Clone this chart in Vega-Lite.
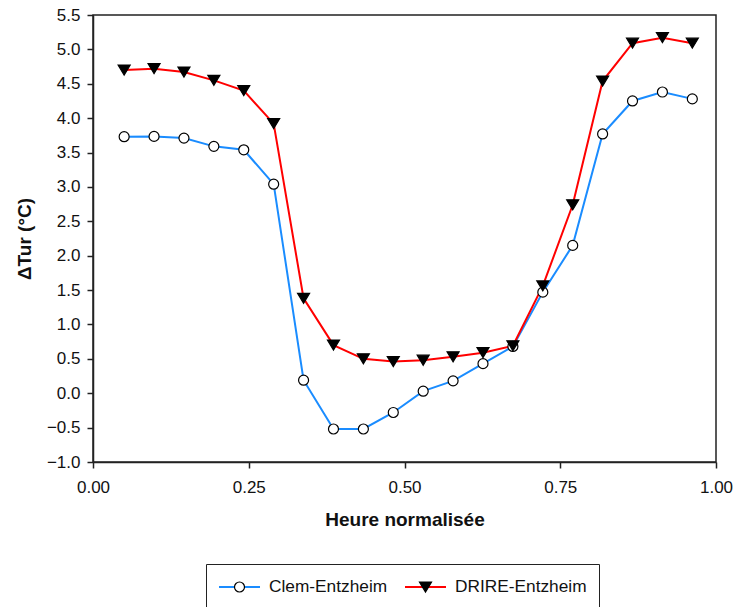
{
  "$schema": "https://vega.github.io/schema/vega-lite/v6.json",
  "width": 623,
  "height": 447,
  "autosize": {"type": "none"},
  "padding": {"left": 93, "top": 15, "right": 18, "bottom": 145},
  "background": "white",
  "config": {
    "font": "Liberation Sans",
    "view": {"stroke": "#222", "strokeWidth": 1.5},
    "axis": {
      "domainColor": "#222", "tickColor": "#222", "domainWidth": 1.5, "tickWidth": 1.5,
      "labelFont": "Liberation Sans", "labelFontSize": 17, "labelColor": "#111",
      "titleFont": "Liberation Sans", "titleFontSize": 19, "titleFontWeight": "bold", "titleColor": "#111",
      "grid": false, "tickSize": 6
    }
  },
  "data": {"values": [
    {"x": 0.050, "y": 3.73, "series": "Clem-Entzheim"},
    {"x": 0.098, "y": 3.735, "series": "Clem-Entzheim"},
    {"x": 0.146, "y": 3.71, "series": "Clem-Entzheim"},
    {"x": 0.194, "y": 3.59, "series": "Clem-Entzheim"},
    {"x": 0.242, "y": 3.54, "series": "Clem-Entzheim"},
    {"x": 0.290, "y": 3.04, "series": "Clem-Entzheim"},
    {"x": 0.338, "y": 0.19, "series": "Clem-Entzheim"},
    {"x": 0.386, "y": -0.52, "series": "Clem-Entzheim"},
    {"x": 0.434, "y": -0.52, "series": "Clem-Entzheim"},
    {"x": 0.482, "y": -0.28, "series": "Clem-Entzheim"},
    {"x": 0.530, "y": 0.03, "series": "Clem-Entzheim"},
    {"x": 0.578, "y": 0.18, "series": "Clem-Entzheim"},
    {"x": 0.626, "y": 0.43, "series": "Clem-Entzheim"},
    {"x": 0.674, "y": 0.68, "series": "Clem-Entzheim"},
    {"x": 0.722, "y": 1.47, "series": "Clem-Entzheim"},
    {"x": 0.770, "y": 2.15, "series": "Clem-Entzheim"},
    {"x": 0.818, "y": 3.77, "series": "Clem-Entzheim"},
    {"x": 0.866, "y": 4.25, "series": "Clem-Entzheim"},
    {"x": 0.914, "y": 4.38, "series": "Clem-Entzheim"},
    {"x": 0.962, "y": 4.28, "series": "Clem-Entzheim"},
    {"x": 0.050, "y": 4.70, "series": "DRIRE-Entzheim"},
    {"x": 0.098, "y": 4.72, "series": "DRIRE-Entzheim"},
    {"x": 0.146, "y": 4.67, "series": "DRIRE-Entzheim"},
    {"x": 0.194, "y": 4.55, "series": "DRIRE-Entzheim"},
    {"x": 0.242, "y": 4.40, "series": "DRIRE-Entzheim"},
    {"x": 0.290, "y": 3.92, "series": "DRIRE-Entzheim"},
    {"x": 0.338, "y": 1.38, "series": "DRIRE-Entzheim"},
    {"x": 0.386, "y": 0.70, "series": "DRIRE-Entzheim"},
    {"x": 0.434, "y": 0.50, "series": "DRIRE-Entzheim"},
    {"x": 0.482, "y": 0.46, "series": "DRIRE-Entzheim"},
    {"x": 0.530, "y": 0.48, "series": "DRIRE-Entzheim"},
    {"x": 0.578, "y": 0.53, "series": "DRIRE-Entzheim"},
    {"x": 0.626, "y": 0.59, "series": "DRIRE-Entzheim"},
    {"x": 0.674, "y": 0.69, "series": "DRIRE-Entzheim"},
    {"x": 0.722, "y": 1.56, "series": "DRIRE-Entzheim"},
    {"x": 0.770, "y": 2.74, "series": "DRIRE-Entzheim"},
    {"x": 0.818, "y": 4.54, "series": "DRIRE-Entzheim"},
    {"x": 0.866, "y": 5.09, "series": "DRIRE-Entzheim"},
    {"x": 0.914, "y": 5.17, "series": "DRIRE-Entzheim"},
    {"x": 0.962, "y": 5.09, "series": "DRIRE-Entzheim"}
  ]},
  "encoding": {
    "x": {"field": "x", "type": "quantitative",
      "scale": {"domain": [0, 1], "nice": false, "zero": false},
      "axis": {"title": "Heure normalisée", "values": [0, 0.25, 0.5, 0.75, 1], "format": ".2f", "labelPadding": 11, "titlePadding": 15, "labelFlush": false}},
    "y": {"field": "y", "type": "quantitative",
      "scale": {"domain": [-1, 5.5], "nice": false, "zero": false},
      "axis": {"title": "ΔTur (°C)", "values": [-1, -0.5, 0, 0.5, 1, 1.5, 2, 2.5, 3, 3.5, 4, 4.5, 5, 5.5], "format": ".1f", "labelPadding": 7, "titlePadding": 12, "labelFlush": false}}
  },
  "layer": [
    {
      "mark": {"type": "line", "strokeWidth": 2},
      "encoding": {
        "color": {"field": "series", "type": "nominal",
          "scale": {"domain": ["Clem-Entzheim", "DRIRE-Entzheim"], "range": ["#1a8cff", "#ff0000"]},
          "legend": {"orient": "none", "legendX": 113, "legendY": 549, "direction": "horizontal", "title": null,
            "symbolType": "stroke", "symbolSize": 1681, "symbolStrokeWidth": 2, "clipHeight": 22,
            "labelFont": "Liberation Sans", "labelFontSize": 17.3, "labelColor": "#111", "labelOffset": 8,
            "columnPadding": 16, "padding": 12, "strokeColor": "#222"}}
      }
    },
    {
      "mark": {"type": "point", "filled": true, "strokeWidth": 1.2, "opacity": 1, "size": 1681},
      "encoding": {
        "shape": {"field": "series", "type": "nominal",
          "scale": {"range": ["M-1,0M1,0M0.244,0A0.244,0.244,0,1,1,-0.244,0A0.244,0.244,0,1,1,0.244,0Z", "M-1,0M1,0M-0.293,-0.244L0.293,-0.244L0,0.244Z"]},
          "legend": {"orient": "none", "legendX": 113, "legendY": 549, "direction": "horizontal", "title": null,
            "symbolSize": 1681, "symbolStrokeColor": "black", "symbolStrokeWidth": 1.2, "clipHeight": 22,
            "labelFont": "Liberation Sans", "labelFontSize": 17.3, "labelColor": "transparent", "labelOffset": 8,
            "columnPadding": 16, "padding": 12}},
        "fill": {"field": "series", "type": "nominal",
          "scale": {"range": ["white", "black"]},
          "legend": {"orient": "none", "legendX": 113, "legendY": 549, "direction": "horizontal", "title": null,
            "symbolSize": 1681, "symbolStrokeColor": "black", "symbolStrokeWidth": 1.2, "clipHeight": 22,
            "labelFont": "Liberation Sans", "labelFontSize": 17.3, "labelColor": "transparent", "labelOffset": 8,
            "columnPadding": 16, "padding": 12}},
        "stroke": {"field": "series", "type": "nominal",
          "scale": {"range": ["black", "black"]},
          "legend": {"orient": "none", "legendX": 113, "legendY": 549, "direction": "horizontal", "title": null,
            "symbolSize": 1681, "symbolStrokeColor": "black", "symbolStrokeWidth": 1.2, "clipHeight": 22,
            "labelFont": "Liberation Sans", "labelFontSize": 17.3, "labelColor": "transparent", "labelOffset": 8,
            "columnPadding": 16, "padding": 12}}
      }
    }
  ]
}
